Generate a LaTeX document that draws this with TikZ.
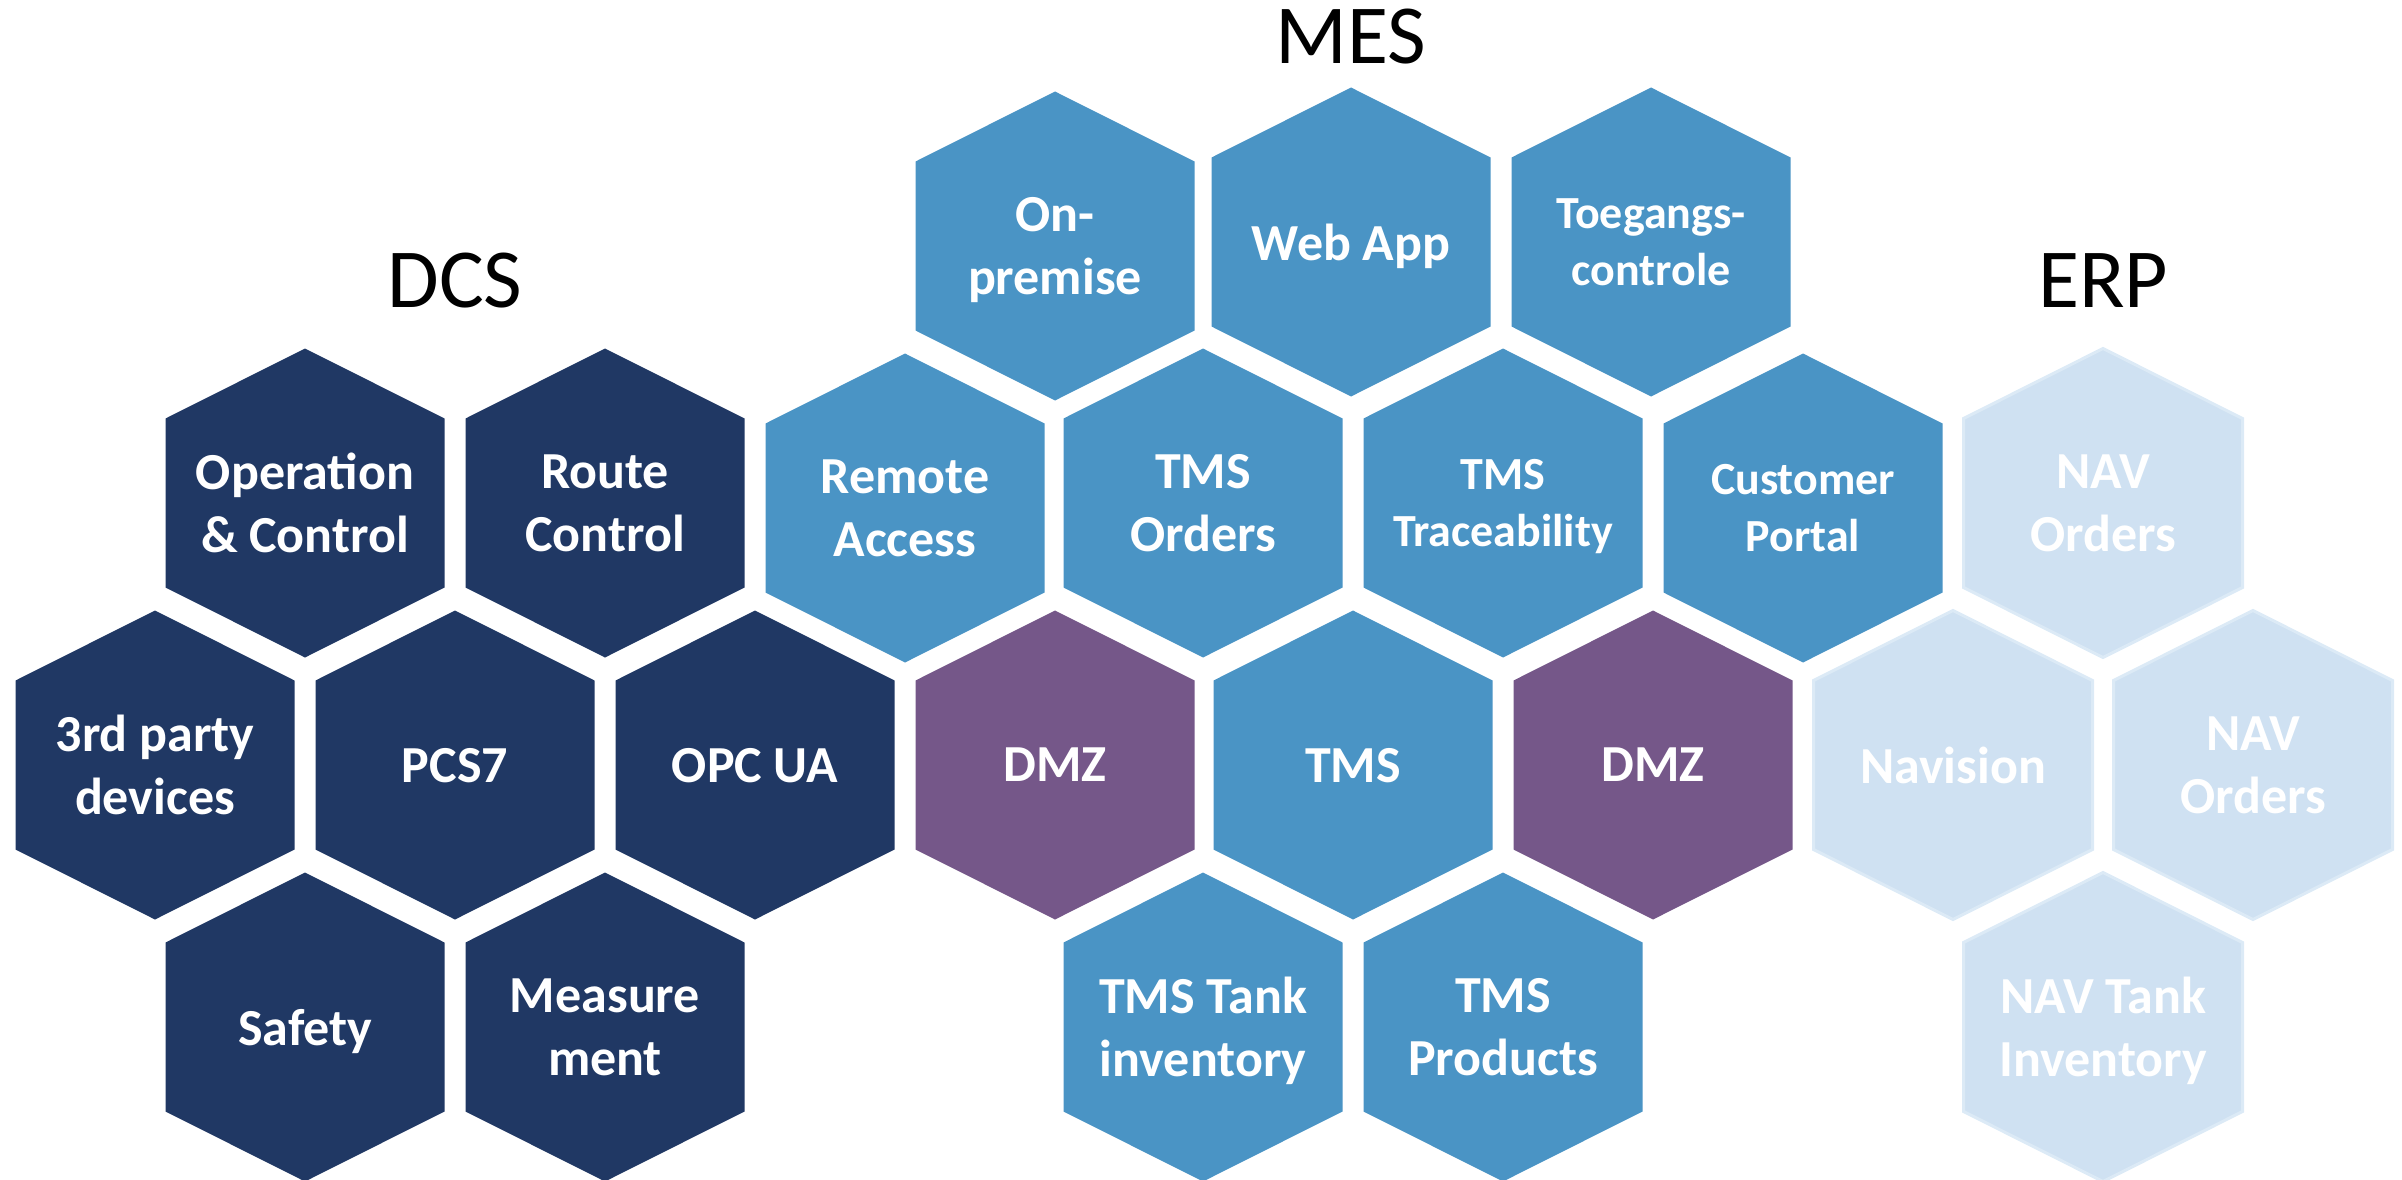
\documentclass[tikz,border=0pt]{standalone}
\usepackage{fontspec}
\setmainfont{Carlito}
\definecolor{dcsblue}{HTML}{203864}
\definecolor{mesblue}{HTML}{4A94C5}
\definecolor{dmzpurple}{HTML}{755789}
\definecolor{erpblue}{HTML}{CFE1F2}
\definecolor{erpline}{HTML}{DCEAF6}
\begin{document}
\begin{tikzpicture}
    [
    x=1pt, y=-1pt,
    every node/.style={text=white,align=center,inner sep=0pt,text depth=0pt},
    bigtext/.style={font=\bfseries\fontsize{52}{63}\selectfont},
    smalltext/.style={font=\bfseries\fontsize{46}{57}\selectfont},
    title/.style={text=black,anchor=base,font=\fontsize{84}{100}\selectfont},
    hexagon/.style={insert path={++(0,-154.5) -- ++(139.5,70) -- ++(0,169) -- ++(-139.5,70) -- ++(-139.5,-70) -- ++(0,-169) -- cycle}},
    dcs/.style={fill=dcsblue},
    mes/.style={fill=mesblue},
    dmz/.style={fill=dmzpurple},
    erp/.style={fill=erpblue,draw=erpline,line width=3pt},
    ]
    \useasboundingbox (0,0) rectangle (2402,1180);
    % titles
    \node[title] (dcstitle) at (455,307) {DCS};
    \node[title] (mestitle) at (1351,64) {MES};
    \node[title] (erptitle) at (2103,307) {ERP};
    % DCS
    \foreach \name/\x/\y/\txt in {opctrl/305/503/{Operation\\\& Control},
        route/605/503/{Route\\Control},
        thirdparty/155/765/{3rd party\\devices},
        pcs/455/765/{PCS7},
        opcua/755/765/{OPC UA},
        safety/305/1027/{Safety},
        measure/605/1027/{Measure\\ment}}
      {
      \fill[dcs] (\x,\y) [hexagon];
      \node[bigtext] (\name) at (\x,\y) {\txt};
      }
    % MES
    \foreach \name/\x/\y/\sz/\txt in {onprem/1055/246/bigtext/{On-\\premise},
        webapp/1351/242/bigtext/{Web App},
        access/1651/242/smalltext/{Toegangs-\\controle},
        remote/905/508/bigtext/{Remote\\Access},
        orders/1203/503/bigtext/{TMS\\Orders},
        trace/1503/503/smalltext/{TMS\\Traceability},
        portal/1803/508/smalltext/{Customer\\Portal},
        tms/1353/765/bigtext/{TMS},
        tank/1203/1027/bigtext/{TMS Tank\\inventory},
        products/1503/1027/bigtext/{TMS\\Products}}
      {
      \fill[mes] (\x,\y) [hexagon];
      \node[\sz] (\name) at (\x,\y) {\txt};
      }
    \foreach \name/\x in {dmzleft/1055, dmzright/1653}
      {
      \fill[dmz] (\x,765) [hexagon];
      \node[bigtext] (\name) at (\x,765) {DMZ};
      }
    % ERP
    \foreach \name/\x/\y/\txt in {navorders/2103/503/{NAV\\Orders},
        navision/1953/765/{Navision},
        navordersb/2253/765/{NAV\\Orders},
        navtank/2103/1027/{NAV Tank\\Inventory}}
      {
      \filldraw[erp] (\x,\y) [hexagon];
      \node[bigtext] (\name) at (\x,\y) {\txt};
      }
  \end{tikzpicture}
\end{document}
